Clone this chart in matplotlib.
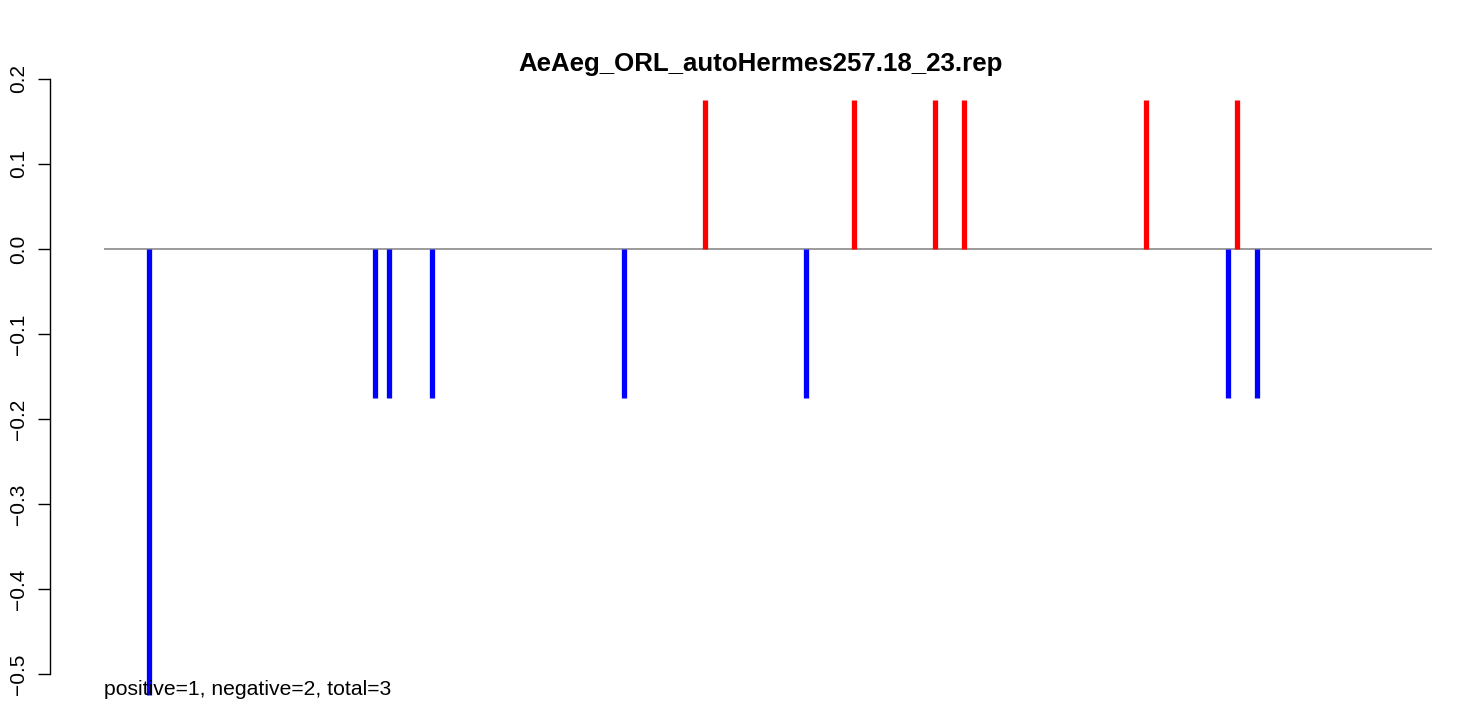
import numpy as np
import matplotlib.pyplot as plt

plt.rcParams['font.family'] = ['Liberation Sans', 'DejaVu Sans']

title = 'AeAeg_ORL_autoHermes257.18_23.rep'
note = 'positive=1, negative=2, total=3'

# hit positions along the read and their scores
pos_hits = [655, 804, 885, 914, 1096, 1187]
pos_scores = [0.175, 0.175, 0.175, 0.175, 0.175, 0.175]
neg_hits = [99, 325, 339, 382, 574, 756, 1178, 1207]
neg_scores = [-0.525, -0.175, -0.175, -0.175, -0.175, -0.175, -0.175, -0.175]
seq_start, seq_end = 54, 1382
yticks = [-0.5, -0.4, -0.3, -0.2, -0.1, 0.0, 0.1, 0.2]

W, H = 1467, 708
fig = plt.figure(figsize=(W / 100, H / 100), dpi=100)
ax = fig.add_axes([50 / W, 1 - 698 / H, 1 - 50 / W, (698 - 55) / H])

ax.hlines(0, seq_start, seq_end, color='#808080', lw=1.1)
ax.vlines(pos_hits, 0, pos_scores, color='red', lw=3.8)
ax.vlines(neg_hits, 0, neg_scores, color='blue', lw=3.8)

ax.set_xlim(0, W - 50)
ax.set_ylim(-0.528, 0.228)
ax.set_yticks(yticks)
ax.set_yticklabels([('%.1f' % v).replace('-', '\u2212') for v in yticks],
                   rotation=90, va='center', fontsize=15)
ax.tick_params(axis='y', length=8.6, width=1.0, pad=7, direction='out')
ax.set_xticks([])
for s in ['top', 'right', 'bottom']:
    ax.spines[s].set_visible(False)
ax.spines['left'].set_bounds(-0.5, 0.2)
ax.spines['left'].set_linewidth(1.0)

ax.text(seq_start, -0.518, note, fontsize=15.2, ha='left', va='center', clip_on=False)
fig.text(761 / W, 1 - 64 / H, title, fontsize=18.6, fontweight='bold', ha='center', va='center')

plt.savefig('out.png', dpi=100)
